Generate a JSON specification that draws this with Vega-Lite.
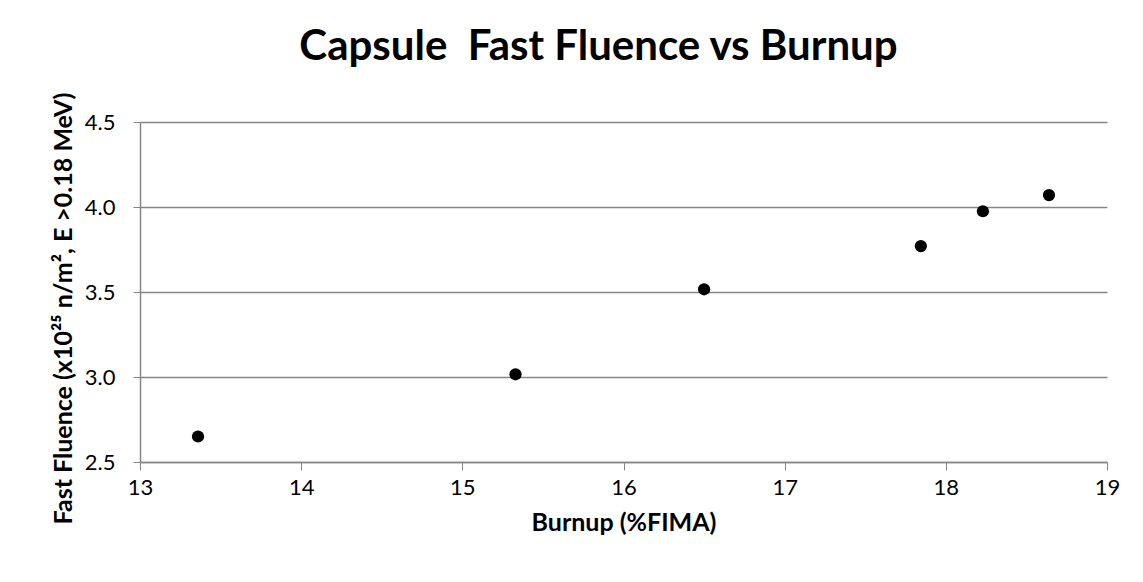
{
  "$schema": "https://vega.github.io/schema/vega-lite/v6.json",
  "autosize": "none",
  "width": 967,
  "height": 340,
  "padding": {"left": 140, "top": 122, "right": 36, "bottom": 120},
  "background": "white",
  "title": {
    "text": "Capsule\u00a0 Fast Fluence vs Burnup",
    "font": "Lato",
    "fontSize": 42,
    "fontWeight": "bold",
    "color": "black",
    "anchor": "middle",
    "dx": -25,
    "offset": 23
  },
  "data": {
    "values": [
      {"burnup": 13.36, "fluence": 2.65},
      {"burnup": 15.33, "fluence": 3.016},
      {"burnup": 16.50, "fluence": 3.516},
      {"burnup": 17.845, "fluence": 3.77},
      {"burnup": 18.23, "fluence": 3.975},
      {"burnup": 18.64, "fluence": 4.07}
    ]
  },
  "mark": {"type": "point", "filled": true, "color": "black", "opacity": 1, "size": 150},
  "encoding": {
    "x": {
      "field": "burnup",
      "type": "quantitative",
      "scale": {"domain": [13, 19], "nice": false, "zero": false},
      "axis": {
        "title": "Burnup (%FIMA)",
        "values": [13, 14, 15, 16, 17, 18, 19],
        "grid": false,
        "format": "d",
        "labelFlush": false,
        "domainColor": "#868686",
        "domainWidth": 1.5,
        "tickColor": "#868686",
        "tickSize": 8,
        "labelFont": "Lato",
        "labelFontSize": 22,
        "labelColor": "black",
        "labelPadding": 7,
        "titleFont": "Lato",
        "titleFontSize": 25,
        "titleFontWeight": "bold",
        "titleColor": "black",
        "titlePadding": 12
      }
    },
    "y": {
      "field": "fluence",
      "type": "quantitative",
      "scale": {"domain": [2.5, 4.5], "nice": false, "zero": false},
      "axis": {
        "title": "Fast Fluence (x10²⁵ n/m², E >0.18 MeV)",
        "values": [2.5, 3.0, 3.5, 4.0, 4.5],
        "format": ".1f",
        "labelFlush": false,
        "grid": true,
        "gridColor": "#868686",
        "gridWidth": 1.5,
        "domainColor": "#868686",
        "domainWidth": 1.5,
        "tickColor": "#868686",
        "tickSize": 7,
        "labelFont": "Lato",
        "labelFontSize": 22,
        "labelColor": "black",
        "labelPadding": 18,
        "titleFont": "Lato",
        "titleFontSize": 25,
        "titleFontWeight": "bold",
        "titleColor": "black",
        "titlePadding": 8,
        "titleY": 186
      }
    }
  },
  "config": {"view": {"stroke": null}}
}
